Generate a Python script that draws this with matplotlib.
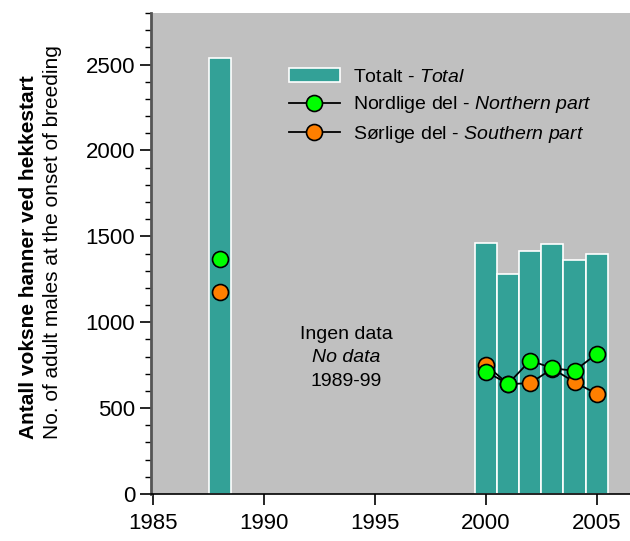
import matplotlib.pyplot as plt
from matplotlib.ticker import MultipleLocator
from matplotlib import font_manager

names = {f.name for f in font_manager.fontManager.ttflist}
fam = 'Liberation Sans Narrow' if 'Liberation Sans Narrow' in names else 'Liberation Sans'
plt.rcParams['font.family'] = [fam, 'DejaVu Sans']
plt.rcParams['mathtext.fontset'] = 'custom'
plt.rcParams['mathtext.rm'] = fam
plt.rcParams['mathtext.it'] = fam + ':italic'

years = [1988, 2000, 2001, 2002, 2003, 2004, 2005]
total = [2540, 1460, 1278, 1416, 1453, 1362, 1397]
north = [1370, 713, 641, 777, 732, 717, 816]
south = [1177, 752, 640, 645, 730, 651, 583]

teal = '#33a197'
ms = 11.5
fig = plt.figure(figsize=(6.3, 5.41), dpi=100)
ax = fig.add_axes([0.2397, 0.0869, 0.7603, 0.889])
ax.set_facecolor('#c0c0c0')

bars = ax.bar(years, total, width=1.0, color=teal, edgecolor='white', linewidth=1.2, zorder=2)

# 1988 stands alone, 2000-2005 connected
ax.plot(years[:1], south[:1], 'o', mfc='#ff7f00', mec='black', ms=ms, mew=1.2, zorder=3)
ls, = ax.plot(years[1:], south[1:], '-o', color='black', lw=1.3, mfc='#ff7f00', mec='black',
              ms=ms, mew=1.2, zorder=3)
ax.plot(years[:1], north[:1], 'o', mfc='#00ff00', mec='black', ms=ms, mew=1.2, zorder=4)
ln, = ax.plot(years[1:], north[1:], '-o', color='black', lw=1.3, mfc='#00ff00', mec='black',
              ms=ms, mew=1.2, zorder=4)

ax.legend([bars, ln, ls],
          ['Totalt - $\\it{Total}$', 'Nordlige del - $\\it{Northern\\ part}$',
           'Sørlige del - $\\it{Southern\\ part}$'],
          loc='upper left', bbox_to_anchor=(0.272, 0.902), frameon=False, fontsize=14,
          handlelength=2.6, handletextpad=0.7, labelspacing=0.45, borderaxespad=0)

ax.text(1993.7, 927, 'Ingen data', ha='center', va='center', fontsize=14)
ax.text(1993.7, 793, 'No data', ha='center', va='center', fontsize=14, style='italic')
ax.text(1993.7, 653, '1989-99', ha='center', va='center', fontsize=14)

ax.set_xlim(1984.9, 2006.5)
ax.set_ylim(0, 2800)
ax.set_xticks([1985, 1990, 1995, 2000, 2005])
ax.set_yticks([0, 500, 1000, 1500, 2000, 2500])
ax.yaxis.set_minor_locator(MultipleLocator(100))
ax.tick_params(axis='both', labelsize=16, direction='out', length=8, width=1.2)
ax.tick_params(axis='y', which='minor', length=4, width=1)
ax.tick_params(axis='x', pad=6)
for s in ['top', 'right']:
    ax.spines[s].set_visible(False)
ax.spines['left'].set_color('#555555')
ax.spines['left'].set_linewidth(2)
ax.spines['bottom'].set_linewidth(1.2)

fig.text(0.045, 0.525, 'Antall voksne hanner ved hekkestart', rotation=90,
         ha='center', va='center', fontsize=15, fontweight='bold')
fig.text(0.083, 0.553, 'No. of adult males at the onset of breeding', rotation=90,
         ha='center', va='center', fontsize=15)

fig.savefig('out.png', dpi=100)
